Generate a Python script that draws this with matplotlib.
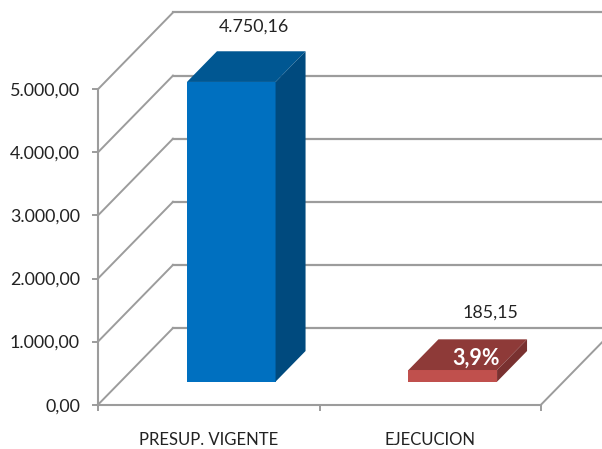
import matplotlib
matplotlib.use('Agg')
import matplotlib.pyplot as plt

# data
categories = ['PRESUP. VIGENTE', 'EJECUCION']
values = [4750.16, 185.15]
value_labels = ['4.750,16', '185,15']
y_ticks = [0, 1000, 2000, 3000, 4000, 5000]
y_tick_labels = ['0,00', '1.000,00', '2.000,00', '3.000,00', '4.000,00', '5.000,00']
front_colors = ['#0070C0', '#C0504D']
top_colors = ['#005792', '#8E3A38']
side_colors = ['#004A7E', '#793130']

plt.rcParams['font.family'] = ['Lato', 'DejaVu Sans']

W, H = 602, 449
px_x = 221.5    # pixels per category
px_y = 0.0631   # pixels per value unit
x0, y0 = 98, 404.7

fig = plt.figure(figsize=(W / 100, H / 100), dpi=100)
ax = fig.add_axes([0, 0, 1, 1])
ax.set_xlim(-x0 / px_x, (W - x0) / px_x)
ax.set_ylim(-(H - y0) / px_y, y0 / px_y)

# fake 3d depth, in data units
dx = 75 / px_x
dy = 76.7 / px_y
grid = '#9C9C9C'

# walls and floor
for t in y_ticks:
    ax.plot([0, dx], [t, t + dy], color=grid, lw=1.4, zorder=1)
    ax.plot([dx, 3], [t + dy, t + dy], color=grid, lw=1.6, zorder=1)
ax.plot([2, 2 + dx], [0, dy], color=grid, lw=1.4, zorder=1)

# bars
bar_w = 0.40
front = 0.30   # how far back the bar starts
depth = 0.40   # how deep the bar is
for i, v in enumerate(values):
    xl = i + 0.5 - bar_w / 2 + front * dx
    xr = xl + bar_w
    yb = front * dy
    ax.bar(xl, v, width=bar_w, bottom=yb, align='edge', color=front_colors[i], zorder=3)
    top = yb + v
    ax.fill([xl, xr, xr + depth * dx, xl + depth * dx],
            [top, top, top + depth * dy, top + depth * dy], color=top_colors[i], lw=0, zorder=3)
    ax.fill([xr, xr + depth * dx, xr + depth * dx, xr],
            [yb, yb + depth * dy, top + depth * dy, top], color=side_colors[i], lw=0, zorder=3)

# data labels
ax.text(0.704, values[0] + 78 / px_y, value_labels[0], fontsize=12.8,
        color='#222222', ha='center', va='center')
ax.text(1.77, values[1] + 80 / px_y, value_labels[1], fontsize=12.8,
        color='#222222', ha='center', va='center')
ax.text(1.706, values[1] + 35 / px_y, '3,9%', fontsize=15.5, fontweight='bold',
        color='white', ha='center', va='center', zorder=4)

# axes
for s in ['top', 'right']:
    ax.spines[s].set_visible(False)
ax.spines['left'].set_position(('data', 0))
ax.spines['bottom'].set_position(('data', 0))
ax.spines['left'].set_bounds(0, 5000)
ax.spines['bottom'].set_bounds(0, 2)
ax.spines['left'].set_color(grid)
ax.spines['bottom'].set_color(grid)
ax.spines['left'].set_linewidth(1.5)
ax.spines['bottom'].set_linewidth(1.5)

ax.set_yticks(y_ticks)
ax.set_yticklabels(y_tick_labels, fontsize=12.9, color='#222222')
ax.tick_params(axis='y', length=4.5, width=1.4, color=grid, pad=8.5)
ax.set_xticks([0, 1, 2])
ax.set_xticklabels([])
ax.tick_params(axis='x', which='major', length=4, width=1.4, color=grid)
ax.set_xticks([0.5, 1.5], minor=True)
ax.set_xticklabels(categories, minor=True, fontsize=12, color='#222222')
ax.tick_params(axis='x', which='minor', length=0, pad=20)

fig.savefig('out.png', dpi=100)
